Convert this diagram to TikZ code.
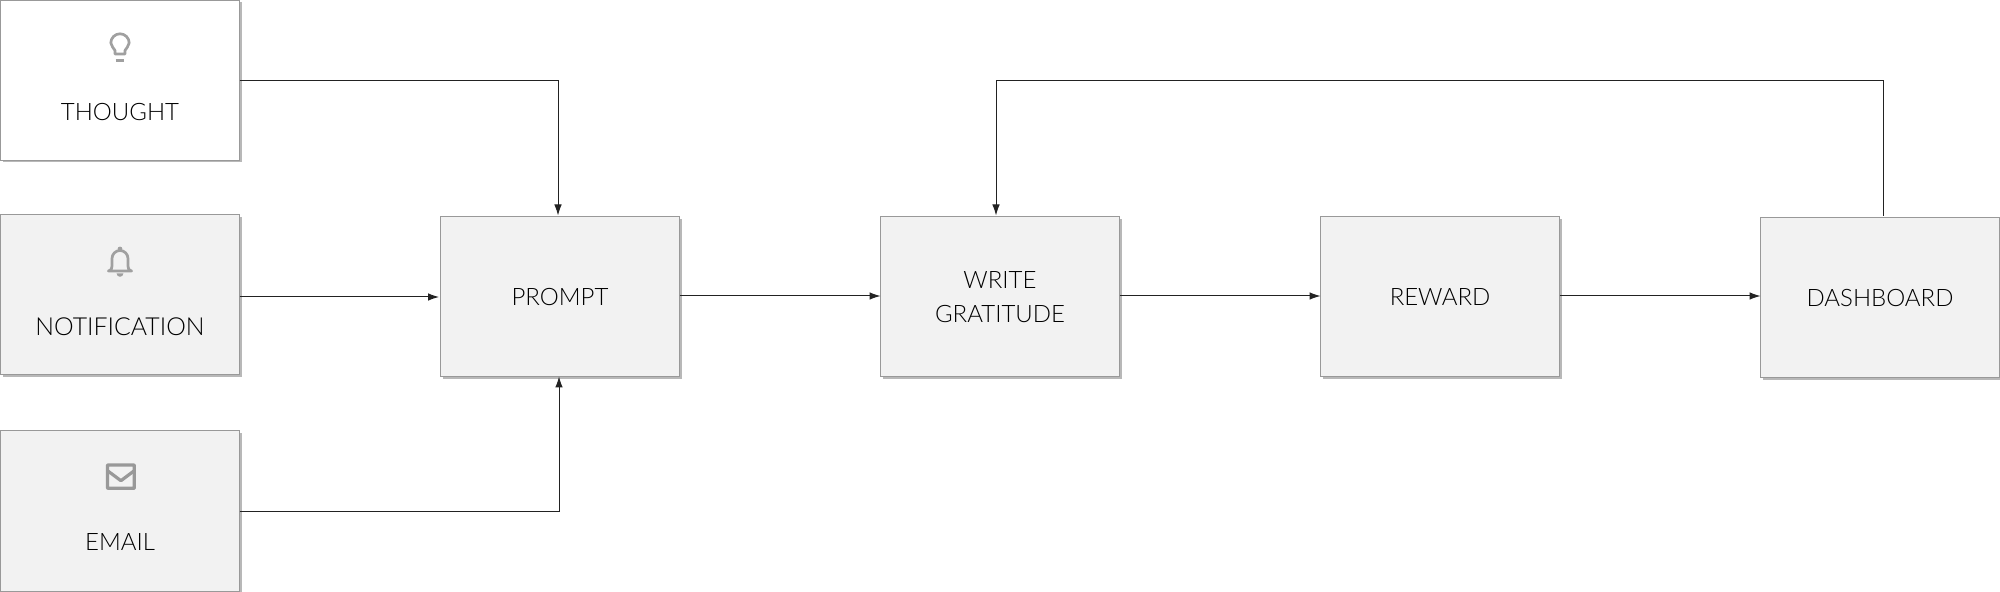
\documentclass[tikz,border=0pt]{standalone}
\usepackage{fontspec}
\setmainfont{Lato}[UprightFont=* Light]
\usetikzlibrary{positioning, shadows, arrows.meta}

\definecolor{boxline}{HTML}{999999}
\definecolor{boxfill}{HTML}{F2F2F2}
\definecolor{boxshadow}{HTML}{B8B8B8}
\definecolor{icongray}{HTML}{A0A0A0}
\definecolor{wirecol}{HTML}{222222}

\tikzset{
	stepbox/.style={draw=boxline, fill=boxfill, line width=0.5pt, minimum width=119.5pt, minimum height=80pt, outer sep=0pt, inner sep=0pt, align=center, font=\fontsize{12}{17}\selectfont, text=black,
		drop shadow={shadow xshift=1pt, shadow yshift=-1pt, fill=boxshadow, opacity=1}},
	boxtext/.style={inner sep=0pt, font=\fontsize{12}{17}\selectfont, text=black},
	wire/.style={draw=wirecol, line width=0.5pt, -{Latex[length=5.5pt, width=3.8pt]}},
	icon/.style={draw=icongray, line width=1.35pt, line join=round}
}

\begin{document}
\begin{tikzpicture}
	\useasboundingbox (0,0) rectangle (1000pt,-296pt);

	\node[stepbox, fill=white, anchor=north west] (thought) at (0.25pt,-0.25pt) {};
	\node[stepbox, below=27.25pt of thought] (notification) {};
	\node[stepbox, below=28pt of notification] (email) {};
	\node[stepbox, right=100.5pt of notification, yshift=-1pt] (prompt) {PROMPT};
	\node[stepbox, right=100.5pt of prompt] (write) {WRITE\\GRATITUDE};
	\node[stepbox, right=100.5pt of write] (reward) {REWARD};
	\node[stepbox, right=100.5pt of reward, yshift=-0.5pt] (dashboard) {DASHBOARD};

	% texts under the icons
	\node[boxtext, yshift=-15.9pt] (thoughttext) at (thought.center) {THOUGHT};
	\node[boxtext, yshift=-15.9pt, font=\fontsize{12.4}{17}\selectfont] (notificationtext) at (notification.center) {NOTIFICATION};
	\node[boxtext, yshift=-15.4pt] (emailtext) at (email.center) {EMAIL};

	% icons
	\begin{scope}[shift={(thought.center)}]
		\draw[icon] (-2.5pt,13.25pt) -- (-2.5pt,15pt) .. controls (-2.8pt,16.2pt) and (-4.6pt,17pt) .. (-4.6pt,18.75pt) arc (180:0:4.6pt) .. controls (4.6pt,17pt) and (2.8pt,16.2pt) .. (2.5pt,15pt) -- (2.5pt,13.25pt) -- cycle;
		\draw[icon, line width=1.2pt] (-2.2pt,10pt) -- (2.2pt,10pt);
	\end{scope}
	\begin{scope}[shift={(notification.center)}]
		\draw[icon] (-5.8pt,12pt) .. controls (-4.2pt,12.6pt) and (-4pt,13.5pt) .. (-4pt,14.5pt) -- (-4pt,18.25pt) arc (180:0:4pt) -- (4pt,14.5pt) .. controls (4pt,13.5pt) and (4.2pt,12.6pt) .. (5.8pt,12pt) -- cycle;
		\fill[icongray] (0pt,23pt) circle (1.2pt);
		\fill[icongray] (-1.7pt,10.8pt) arc (180:360:1.7pt) -- cycle;
	\end{scope}
	\begin{scope}[shift={(email.center)}]
		\draw[icon, line width=1.6pt, draw=boxline, rounded corners=0.2pt] (-6.25pt,11.35pt) rectangle (7.15pt,23pt);
		\draw[icon, line width=1.6pt, draw=boxline] (-6.25pt,20.15pt) -- (0.45pt,15.15pt) -- (7.15pt,20.15pt);
	\end{scope}

	% connectors
	\coordinate (turn) at ([xshift=-2pt]write.north |- thought.east);
	\draw[wire, shorten >=0.75pt] (thought.east) -| ([xshift=-1pt]prompt.north);
	\draw[wire, shorten >=0.75pt] (notification.east |- prompt.west) -- (prompt.west);
	\draw[wire] (email.east) -| ([xshift=-0.5pt, yshift=0.25pt]prompt.south);
	\draw[wire] ([yshift=0.5pt]prompt.east) -- ([yshift=0.5pt]write.west);
	\draw[wire] ([yshift=0.5pt]write.east) -- ([yshift=0.5pt]reward.west);
	\draw[wire] ([yshift=0.5pt]reward.east) -- ([yshift=0.5pt]reward.east -| dashboard.west);
	\draw[wire, shorten >=0.75pt] ([xshift=1.5pt, yshift=1pt]dashboard.north) |- (turn) -- ([xshift=-2pt]write.north);
\end{tikzpicture}
\end{document}
